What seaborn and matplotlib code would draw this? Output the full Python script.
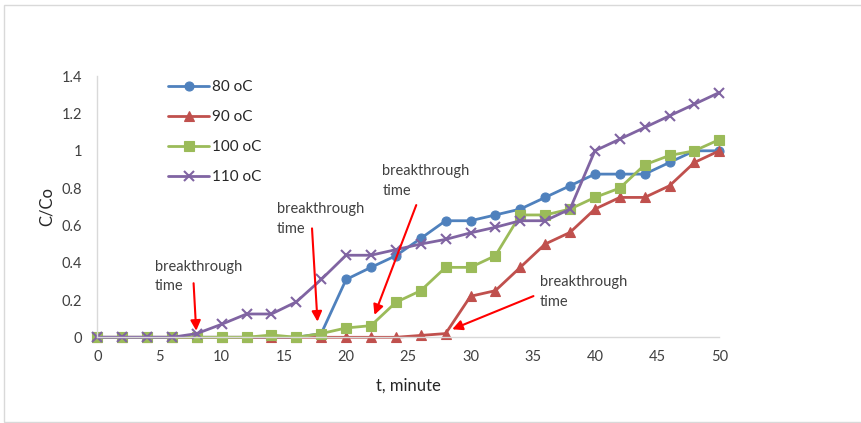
import matplotlib
matplotlib.use("Agg")
import matplotlib.pyplot as plt
from matplotlib.patches import Rectangle
import seaborn as sns
import pandas as pd

# Breakthrough curves: outlet/inlet concentration ratio vs time
time_min = [0, 2, 4, 6, 8, 10, 12, 14, 16, 18, 20, 22, 24,
            26, 28, 30, 32, 34, 36, 38, 40, 42, 44, 46, 48, 50]

c_80 = [0, 0, 0, 0, 0, 0, 0, 0, 0, 0.02, 0.31, 0.375, 0.4375,
        0.53, 0.625, 0.625, 0.656, 0.6875, 0.75, 0.8125, 0.875, 0.875, 0.875, 0.9375, 1.0, 1.0]
c_90 = [0, 0, 0, 0, 0, 0, 0, 0, 0, 0, 0, 0, 0,
        0.01, 0.02, 0.22, 0.25, 0.375, 0.5, 0.5625, 0.6875, 0.75, 0.75, 0.8125, 0.9375, 1.0]
c_100 = [0, 0, 0, 0, 0, 0, 0, 0.0125, 0, 0.02, 0.05, 0.0625, 0.1875,
         0.25, 0.375, 0.375, 0.4375, 0.656, 0.656, 0.6875, 0.75, 0.8, 0.925, 0.975, 1.0, 1.06]
c_110 = [0, 0, 0, 0, 0.02, 0.07, 0.125, 0.125, 0.19, 0.31, 0.44, 0.44, 0.47,
         0.5, 0.525, 0.56, 0.59, 0.625, 0.625, 0.6875, 1.0, 1.0625, 1.125, 1.1875, 1.25, 1.3125]

series_labels = ["80 oC", "90 oC", "100 oC", "110 oC"]
series_values = [c_80, c_90, c_100, c_110]
series_colors = ["#4F81BD", "#C0504D", "#9BBB59", "#8064A2"]
series_markers = ["o", "^", "s", "x"]

y_ticks = [0, 0.2, 0.4, 0.6, 0.8, 1, 1.2, 1.4]
y_tick_labels = ["0", "0.2", "0.4", "0.6", "0.8", "1", "1.2", "1.4"]
x_ticks = [0, 5, 10, 15, 20, 25, 30, 35, 40, 45, 50]

sns.set_theme(style="white")
plt.rcParams["font.family"] = ["Lato", "DejaVu Sans"]

W, H = 862, 423
fig = plt.figure(figsize=(W / 100, H / 100), dpi=100)
ax = fig.add_axes([97.3 / W, 1 - 337.3 / H, (719.3 - 97.3) / W, (337.3 - 76.2) / H])

frames = []
for lab, vals in zip(series_labels, series_values):
    frames.append(pd.DataFrame({"t": time_min, "c": vals, "series": lab}))
df = pd.concat(frames, ignore_index=True)

for lab, col, mk in zip(series_labels, series_colors, series_markers):
    sub = df[df["series"] == lab]
    kw = dict(marker=mk, markersize=6.5, markeredgecolor=col, markerfacecolor=col,
              markeredgewidth=0.8)
    if mk == "x":
        kw.update(markersize=7, markeredgewidth=1.5)
    if mk == "^":
        kw.update(markersize=7)
    sns.lineplot(data=sub, x="t", y="c", color=col, linewidth=2.0, ax=ax,
                 label=lab, clip_on=False, **kw)

ax.set_xlim(0, 50)
ax.set_ylim(0, 1.4)
ax.set_xticks(x_ticks)
ax.set_xticklabels([str(v) for v in x_ticks])
ax.set_yticks(y_ticks)
ax.set_yticklabels(y_tick_labels)
ax.tick_params(axis="both", length=0, labelsize=10.5, colors="#404040")
ax.tick_params(axis="y", pad=11)
ax.tick_params(axis="x", pad=9)
for side in ("top", "right"):
    ax.spines[side].set_visible(False)
for side in ("left", "bottom"):
    ax.spines[side].set_color("#D9D9D9")
    ax.spines[side].set_linewidth(1.0)
ax.grid(False)

ax.set_xlabel("t, minute", fontsize=12, color="#262626", labelpad=10)
ax.set_ylabel("C/Co", fontsize=12, color="#262626", labelpad=5)

leg = ax.legend(loc="upper left", bbox_to_anchor=(168 / W, 1 - 80 / H),
                bbox_transform=fig.transFigure, frameon=False, fontsize=11,
                handlelength=2.7, handletextpad=0.15, labelspacing=1.05,
                borderaxespad=0, borderpad=0)
for txt in leg.get_texts():
    txt.set_color("#262626")

# "breakthrough time" callouts with red arrows
notes = [
    ((4.65, 0.326), (7.74, 0.29), (7.95, 0.035)),
    ((14.44, 0.633), (17.26, 0.584), (17.7, 0.084)),
    ((22.9, 0.839), (25.64, 0.709), (22.28, 0.12)),
    ((35.59, 0.242), (35.06, 0.221), (28.53, 0.043)),
]
for (tx, ty), start, tip in notes:
    ax.text(tx, ty, "breakthrough\ntime", fontsize=10.5, color="#404040",
            ha="left", va="center", linespacing=1.5)
    ax.annotate("", xy=tip, xytext=start,
                arrowprops=dict(arrowstyle="-|>", color="#FF0000", lw=1.5,
                                mutation_scale=15, shrinkA=0, shrinkB=0))

# light outer frame
fig.patches.append(Rectangle((4 / W, 1.5 / H), 1.0, 1 - 6.5 / H, transform=fig.transFigure,
                             fill=False, edgecolor="#D9D9D9", linewidth=1.0))

fig.savefig("out.png", dpi=100)
